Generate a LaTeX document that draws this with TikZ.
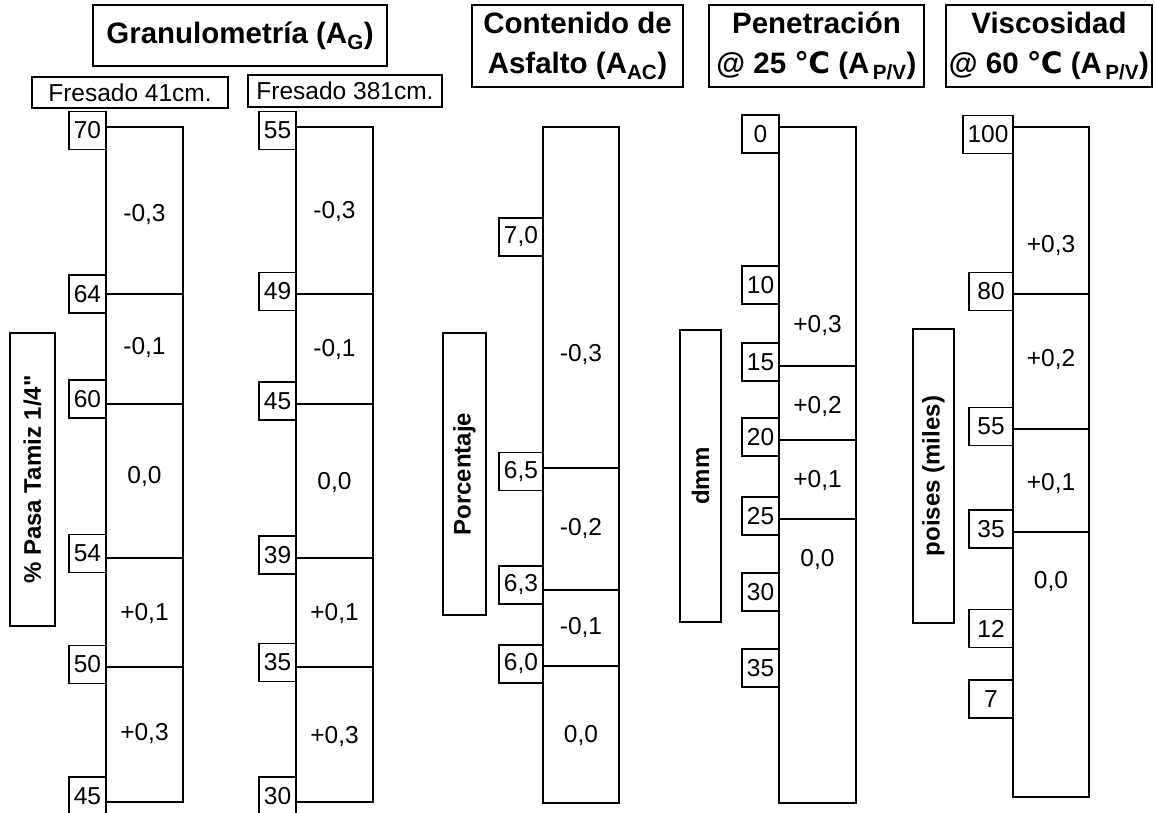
\documentclass[tikz,border=0pt]{standalone}
\usepackage{fontspec}
\setmainfont{Liberation Sans}[Ligatures=TeXOff]
\newfontfamily\dejavufam{DejaVu Sans}
\newcommand\numfont{\fontsize{24.5}{28}\selectfont}
\newcommand\ttlfont{\fontsize{29.5}{40}\selectfont\bfseries}
\newcommand\vlabfont{\fontsize{24}{28}\selectfont\bfseries}
\newcommand\celsiusglyph{{\dejavufam\bfseries ℃}}
\begin{document}
\begin{tikzpicture}[x=1pt,y=-1pt,
  box/.style={draw, line width=1.3pt, inner sep=0pt},
  num/.style={box, fill=white, font=\numfont, minimum height=38pt, minimum width=37pt},
  numw/.style={num, minimum width=44pt},
  seg/.style={font=\numfont, inner sep=0pt},
  ttl/.style={box, font=\ttlfont, align=center},
  vlab/.style={box, font=\vlabfont, rotate=90},
  barbox/.style={box, minimum width=77pt},
  div/.style={line width=1.3pt}]
\useasboundingbox (0,0) rectangle (1156,812);

% titles
\node[ttl, minimum width=294pt, minimum height=61pt] (tG) at (240,35.5) {Granulometría (A\textsubscript{G})};
\node[ttl, minimum width=211pt, minimum height=82pt] (tAC) at (577.5,46) {Contenido de\\Asfalto (A\textsubscript{AC})};
\node[ttl, minimum width=215pt, minimum height=82pt] (tPen) at (816.5,46) {Penetración\\@ 25 \celsiusglyph{} (A\textsubscript{\,P/V})};
\node[ttl, minimum width=206pt, minimum height=82pt] (tVis) at (1049,46) {Viscosidad\\@ 60 \celsiusglyph{} (A\textsubscript{\,P/V})};

\node[box, font=\numfont, minimum width=196pt, minimum height=31pt] (f1) at (130,92.5) {Fresado 41cm.};
\node[box, font=\numfont, minimum width=194pt, minimum height=32pt] (f2) at (345,91) {Fresado 381cm.};

% vertical labels
\node[vlab, minimum width=293pt, minimum height=45pt] (v1) at (32.5,479.5) {\% Pasa Tamiz 1/4"};
\node[vlab, minimum width=282pt, minimum height=43pt] (v2) at (464.5,474) {Porcentaje};
\node[vlab, minimum width=292pt, minimum height=41pt] (v3) at (700.5,476) {dmm};
\node[vlab, minimum width=294pt, minimum height=41pt] (v4) at (933.5,476) {poises (miles)};

% ---------- column 1 ----------
\node[barbox, minimum height=675pt] (b1) at (144.5,464.5) {};
\draw[div] (b1.west |- 0,294) -- (b1.east |- 0,294);
\draw[div] (b1.west |- 0,404) -- (b1.east |- 0,404);
\draw[div] (b1.west |- 0,558) -- (b1.east |- 0,558);
\draw[div] (b1.west |- 0,667) -- (b1.east |- 0,667);
\node[num] (c1a) at (87.5,130.5) {70};
\node[num] (c1b) at (87.5,294) {64};
\node[num] (c1c) at (87.5,399) {60};
\node[num] (c1d) at (87.5,553.5) {54};
\node[num] (c1e) at (87.5,664.5) {50};
\node[num] (c1f) at (87.5,796) {45};
\node[seg] (s1a) at (144.5,215) {-0,3};
\node[seg] (s1b) at (144.5,348) {-0,1};
\node[seg] (s1c) at (144.5,477) {0,0};
\node[seg] (s1d) at (144.5,614) {+0,1};
\node[seg] (s1e) at (144.5,733) {+0,3};

% ---------- column 2 ----------
\node[barbox, minimum height=675pt] (b2) at (334.5,464.5) {};
\draw[div] (b2.west |- 0,294) -- (b2.east |- 0,294);
\draw[div] (b2.west |- 0,404) -- (b2.east |- 0,404);
\draw[div] (b2.west |- 0,558) -- (b2.east |- 0,558);
\draw[div] (b2.west |- 0,667) -- (b2.east |- 0,667);
\node[num] (c2a) at (277.5,130.5) {55};
\node[num] (c2b) at (277.5,291.5) {49};
\node[num] (c2c) at (277.5,401) {45};
\node[num] (c2d) at (277.5,555) {39};
\node[num] (c2e) at (277.5,662.5) {35};
\node[num] (c2f) at (277.5,796) {30};
\node[seg] (s2a) at (334.5,212) {-0,3};
\node[seg] (s2b) at (334.5,350) {-0,1};
\node[seg] (s2c) at (334.5,483) {0,0};
\node[seg] (s2d) at (334.5,614) {+0,1};
\node[seg] (s2e) at (334.5,736) {+0,3};

% ---------- Contenido de asfalto ----------
\node[barbox, minimum width=76pt, minimum height=676pt] (b3) at (581,465) {};
\draw[div] (b3.west |- 0,468) -- (b3.east |- 0,468);
\draw[div] (b3.west |- 0,590) -- (b3.east |- 0,590);
\draw[div] (b3.west |- 0,666) -- (b3.east |- 0,666);
\node[numw] (c3a) at (521,237) {7,0};
\node[numw] (c3b) at (521,471.5) {6,5};
\node[numw] (c3c) at (521,585) {6,3};
\node[numw] (c3d) at (521,664) {6,0};
\node[seg] (s3a) at (581,355) {-0,3};
\node[seg] (s3b) at (581,529) {-0,2};
\node[seg] (s3c) at (581,628) {-0,1};
\node[seg] (s3d) at (581,735) {0,0};

% ---------- Penetracion ----------
\node[barbox, minimum height=676pt] (b4) at (817.5,465) {};
\draw[div] (b4.west |- 0,366) -- (b4.east |- 0,366);
\draw[div] (b4.west |- 0,440) -- (b4.east |- 0,440);
\draw[div] (b4.west |- 0,519) -- (b4.east |- 0,519);
\node[num] (c4a) at (760.5,134) {0};
\node[num] (c4b) at (760.5,285) {10};
\node[num] (c4c) at (760.5,362) {15};
\node[num] (c4d) at (760.5,437) {20};
\node[num] (c4e) at (760.5,516) {25};
\node[num] (c4f) at (760.5,592) {30};
\node[num] (c4g) at (760.5,668) {35};
\node[seg] (s4a) at (817.5,326) {+0,3};
\node[seg] (s4b) at (817.5,407) {+0,2};
\node[seg] (s4c) at (817.5,481) {+0,1};
\node[seg] (s4d) at (817.5,560) {0,0};

% ---------- Viscosidad ----------
\node[barbox, minimum width=76pt, minimum height=670pt] (b5) at (1051,462) {};
\draw[div] (b5.west |- 0,294) -- (b5.east |- 0,294);
\draw[div] (b5.west |- 0,429) -- (b5.east |- 0,429);
\draw[div] (b5.west |- 0,532) -- (b5.east |- 0,532);
\node[num, minimum width=50pt] (c5a) at (988,134.5) {100};
\node[numw] (c5b) at (991,291.5) {80};
\node[numw] (c5c) at (991,426.5) {55};
\node[numw] (c5d) at (991,529) {35};
\node[numw] (c5e) at (991,628.5) {12};
\node[numw] (c5f) at (991,699) {7};
\node[seg] (s5a) at (1051,246) {+0,3};
\node[seg] (s5b) at (1051,360) {+0,2};
\node[seg] (s5c) at (1051,484) {+0,1};
\node[seg] (s5d) at (1051,582) {0,0};
\end{tikzpicture}
\end{document}
